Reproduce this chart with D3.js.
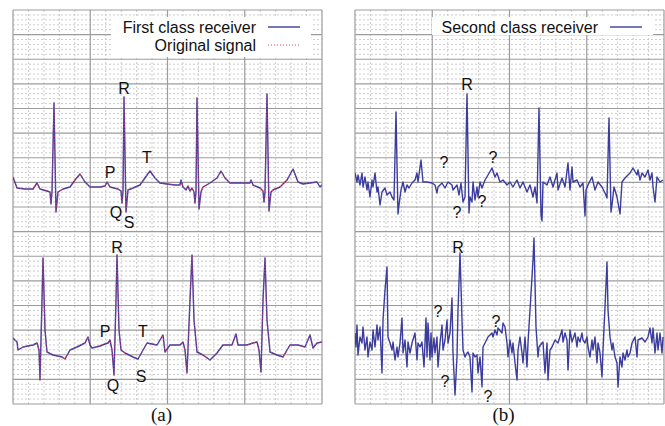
<!DOCTYPE html>
<html>
<head>
<meta charset="utf-8">
<script src="https://cdn.jsdelivr.net/npm/d3@7"></script>
<style>
  html, body { margin: 0; padding: 0; background: #fff; }
  svg { display: block; }
  .label { font-family: "Liberation Sans", Arial, sans-serif; font-size: 16px; fill: #111; }
  .caption { font-family: "Liberation Serif", "Times New Roman", serif; font-size: 19px; fill: #111; }
</style>
</head>
<body>
<svg id="chart" width="665" height="426"></svg>
<script>
// samples are [time (s), amplitude (mV)]

// (a) upper lead, original signal (first class receiver follows it)
const firstTop = [
  [0.00,0.60],[0.04,0.38],[0.12,0.36],[0.20,0.36],[0.24,0.48],[0.27,0.36],[0.34,0.32],[0.37,0.30],
  [0.38,0.06],[0.39,0.30],[0.41,2.08],[0.43,-0.10],[0.45,0.30],[0.50,0.36],[0.57,0.40],[0.62,0.54],
  [0.67,0.66],[0.72,0.50],[0.77,0.40],[0.87,0.40],[0.92,0.42],[0.94,0.50],[0.97,0.40],[1.05,0.36],
  [1.08,0.32],[1.09,0.08],[1.10,0.30],[1.11,2.20],[1.13,-0.10],[1.15,0.34],[1.20,0.38],[1.27,0.44],
  [1.34,0.64],[1.37,0.72],[1.42,0.58],[1.47,0.48],[1.54,0.46],[1.62,0.44],[1.67,0.44],[1.68,0.54],
  [1.70,0.40],[1.73,0.34],[1.75,0.42],[1.77,0.32],[1.79,0.38],[1.81,0.30],[1.82,0.08],[1.83,0.30],
  [1.84,2.18],[1.86,-0.04],[1.88,0.30],[1.90,0.40],[1.97,0.48],[2.04,0.58],[2.08,0.72],[2.12,0.58],
  [2.17,0.48],[2.27,0.48],[2.37,0.48],[2.38,0.54],[2.40,0.44],[2.47,0.38],[2.50,0.32],[2.51,0.10],
  [2.52,0.30],[2.54,2.26],[2.56,-0.08],[2.58,0.30],[2.60,0.34],[2.67,0.40],[2.74,0.54],[2.80,0.76],
  [2.85,0.50],[2.90,0.46],[2.97,0.48],[3.04,0.50],[3.07,0.40],[3.09,0.44]
];

// (a) lower lead
const firstBottom = [
  [0.00,-2.62],[0.04,-2.70],[0.05,-2.86],[0.10,-2.80],[0.15,-2.78],[0.20,-2.76],[0.24,-2.72],[0.26,-2.86],
  [0.27,-3.46],[0.29,-1.86],[0.30,-1.02],[0.32,-2.46],[0.34,-2.90],[0.40,-2.96],[0.49,-3.00],[0.52,-3.04],
  [0.57,-2.86],[0.64,-2.80],[0.72,-2.72],[0.75,-2.60],[0.77,-2.76],[0.79,-2.82],[0.87,-2.78],[0.92,-2.74],
  [0.95,-2.72],[0.97,-2.66],[0.99,-2.86],[1.01,-3.36],[1.03,-1.86],[1.04,-0.96],[1.06,-2.46],[1.08,-2.86],
  [1.12,-2.92],[1.20,-3.00],[1.25,-3.04],[1.29,-2.90],[1.34,-2.72],[1.44,-2.76],[1.50,-2.56],[1.52,-2.90],
  [1.57,-2.76],[1.67,-2.76],[1.70,-2.70],[1.72,-2.86],[1.74,-3.32],[1.77,-1.86],[1.79,-0.96],[1.81,-2.26],
  [1.84,-2.90],[1.90,-2.96],[1.97,-3.06],[2.04,-2.92],[2.10,-2.76],[2.19,-2.76],[2.23,-2.54],[2.25,-2.76],
  [2.34,-2.76],[2.40,-2.72],[2.44,-2.70],[2.46,-2.86],[2.48,-3.30],[2.50,-1.86],[2.52,-1.02],[2.54,-2.26],
  [2.57,-2.90],[2.64,-2.96],[2.70,-3.00],[2.77,-2.76],[2.85,-2.76],[2.92,-2.80],[2.97,-2.56],[3.00,-2.82],
  [3.04,-2.72],[3.09,-2.70]
];

// (b) second class receiver, upper lead
const secondTop = [
  [0.00,0.68],[0.02,0.50],[0.03,0.64],[0.05,0.44],[0.07,0.68],[0.08,0.40],[0.10,0.60],[0.12,0.34],
  [0.13,0.50],[0.15,0.20],[0.17,0.54],[0.18,0.40],[0.20,0.68],[0.22,0.30],[0.23,0.40],[0.25,0.04],
  [0.27,0.30],[0.30,0.38],[0.32,0.24],[0.35,0.30],[0.37,0.20],[0.39,0.14],[0.41,1.90],[0.43,-0.14],
  [0.44,0.04],[0.46,0.34],[0.48,0.50],[0.50,0.30],[0.52,0.44],[0.54,0.38],[0.57,0.48],[0.60,0.54],
  [0.62,0.68],[0.63,0.50],[0.66,0.94],[0.68,0.50],[0.72,0.50],[0.77,0.48],[0.80,0.44],[0.82,0.28],
  [0.83,0.40],[0.87,0.48],[0.90,0.38],[0.93,0.50],[0.97,0.44],[0.98,0.34],[1.02,0.44],[1.04,0.24],
  [1.06,0.48],[1.08,0.10],[1.10,0.20],[1.12,2.26],[1.14,-0.12],[1.15,0.20],[1.17,0.10],[1.18,0.50],
  [1.20,0.14],[1.22,0.40],[1.23,0.20],[1.25,0.50],[1.27,0.38],[1.30,0.54],[1.33,0.64],[1.37,0.78],
  [1.40,0.60],[1.42,0.68],[1.45,0.50],[1.48,0.54],[1.52,0.44],[1.55,0.50],[1.58,0.40],[1.62,0.54],
  [1.65,0.38],[1.68,0.50],[1.72,0.30],[1.75,0.44],[1.78,0.20],[1.80,0.40],[1.82,0.08],[1.84,1.98],
  [1.86,-0.16],[1.87,-0.28],[1.88,0.50],[1.92,0.44],[1.95,0.60],[1.98,0.40],[2.02,0.68],[2.03,0.34],
  [2.07,0.58],[2.10,0.40],[2.13,0.88],[2.15,0.34],[2.17,0.80],[2.18,0.50],[2.22,0.54],[2.25,0.40],
  [2.28,0.48],[2.30,-0.18],[2.31,0.34],[2.33,0.44],[2.37,0.60],[2.40,0.34],[2.43,0.50],[2.47,0.40],
  [2.50,0.28],[2.52,0.18],[2.54,1.78],[2.56,-0.10],[2.57,0.04],[2.59,0.40],[2.62,0.20],[2.65,-0.14],
  [2.67,0.50],[2.70,0.58],[2.75,0.68],[2.78,0.78],[2.82,0.64],[2.83,0.74],[2.85,0.54],[2.87,0.68],
  [2.90,0.60],[2.93,0.74],[2.95,0.54],[2.97,0.68],[2.98,0.40],[3.00,0.10],[3.02,0.60],[3.05,0.50],
  [3.08,0.54]
];

// (b) second class receiver, lower lead
const secondBottom = [
  [0.00,-2.52],[0.01,-2.80],[0.02,-2.36],[0.03,-2.96],[0.05,-2.60],[0.07,-2.72],[0.08,-2.40],[0.10,-2.86],
  [0.12,-2.60],[0.13,-3.00],[0.15,-2.70],[0.17,-2.86],[0.18,-2.46],[0.20,-2.80],[0.22,-2.36],[0.23,-2.66],
  [0.25,-2.40],[0.27,-3.32],[0.28,-2.26],[0.30,-1.66],[0.32,-1.20],[0.33,-2.60],[0.35,-2.72],[0.37,-2.86],
  [0.38,-2.70],[0.40,-3.06],[0.42,-2.80],[0.43,-3.00],[0.45,-2.72],[0.47,-2.22],[0.48,-2.92],[0.50,-2.66],
  [0.52,-3.20],[0.53,-2.70],[0.55,-2.92],[0.57,-2.72],[0.60,-2.52],[0.62,-3.06],[0.63,-2.72],[0.65,-2.80],
  [0.67,-2.70],[0.69,-3.20],[0.71,-2.22],[0.72,-3.00],[0.73,-2.32],[0.75,-3.06],[0.76,-2.52],[0.77,-3.00],
  [0.79,-2.62],[0.80,-2.92],[0.82,-2.60],[0.83,-3.20],[0.85,-2.72],[0.87,-2.36],[0.88,-2.86],[0.90,-2.66],
  [0.92,-2.26],[0.93,-2.72],[0.95,-2.52],[0.97,-1.82],[0.98,-2.92],[1.00,-3.76],[1.02,-3.00],[1.03,-2.06],
  [1.05,-0.92],[1.07,-2.26],[1.08,-2.86],[1.10,-3.00],[1.12,-2.92],[1.13,-2.90],[1.15,-3.00],[1.17,-3.70],
  [1.18,-2.92],[1.20,-3.00],[1.22,-2.96],[1.23,-3.32],[1.25,-3.00],[1.27,-3.60],[1.28,-2.80],[1.30,-2.72],
  [1.33,-2.60],[1.37,-2.52],[1.38,-2.60],[1.40,-2.46],[1.42,-2.56],[1.43,-2.42],[1.47,-2.52],[1.48,-2.32],
  [1.50,-2.40],[1.52,-2.72],[1.53,-3.00],[1.55,-2.66],[1.57,-2.92],[1.58,-2.72],[1.60,-3.12],[1.62,-3.46],
  [1.63,-2.86],[1.65,-2.60],[1.67,-2.92],[1.68,-3.12],[1.70,-2.60],[1.72,-3.20],[1.73,-2.72],[1.75,-2.06],
  [1.77,-1.40],[1.78,-1.06],[1.79,-0.62],[1.81,-2.40],[1.83,-3.00],[1.84,-2.80],[1.87,-2.72],[1.88,-2.70],
  [1.90,-3.32],[1.92,-2.72],[1.93,-3.46],[1.95,-2.86],[1.97,-2.80],[2.00,-2.66],[2.03,-2.72],[2.07,-2.46],
  [2.08,-2.70],[2.10,-2.52],[2.12,-2.66],[2.13,-3.26],[2.15,-2.46],[2.17,-2.70],[2.20,-2.52],[2.22,-2.80],
  [2.23,-2.60],[2.25,-2.70],[2.27,-2.52],[2.28,-2.66],[2.30,-2.72],[2.32,-2.60],[2.33,-2.80],[2.35,-3.00],
  [2.37,-2.66],[2.38,-2.86],[2.40,-2.60],[2.42,-3.12],[2.43,-2.72],[2.45,-2.92],[2.47,-3.40],[2.48,-2.86],
  [2.50,-2.00],[2.52,-1.10],[2.53,-2.06],[2.55,-2.60],[2.57,-2.86],[2.58,-2.72],[2.60,-3.00],[2.62,-3.12],
  [2.63,-3.60],[2.65,-3.00],[2.67,-3.20],[2.68,-2.92],[2.70,-3.06],[2.72,-2.86],[2.73,-3.00],[2.75,-2.92],
  [2.77,-2.72],[2.80,-2.60],[2.82,-3.00],[2.83,-2.66],[2.87,-2.62],[2.90,-2.70],[2.93,-2.60],[2.95,-2.42],
  [2.97,-2.72],[2.98,-2.42],[3.00,-2.92],[3.02,-2.52],[3.03,-2.86],[3.05,-2.52],[3.07,-2.92],[3.08,-2.60]
];

// wave annotations [text, time, amplitude]
const notesA = [
  ['R',1.11,2.26],['P',0.97,0.58],['T',1.34,0.88],['Q',1.03,-0.22],['S',1.16,-0.42],
  ['R',1.04,-0.92],['P',0.92,-2.60],['T',1.30,-2.60],['Q',1.00,-3.68],['S',1.28,-3.50]
];
const notesB = [
  ['R',1.12,2.34],['?',0.89,0.78],['?',1.38,0.88],['?',1.27,0.00],['?',1.02,-0.22],
  ['R',1.03,-0.92],['?',0.83,-2.20],['?',1.41,-2.40],['?',0.90,-3.60],['?',1.33,-3.90]
];

const legendA = ['First class receiver', 'Original signal'];
const legendB = ['Second class receiver'];
const captions = ['(a)', '(b)'];

const BLUE = '#3c3c9e';
const RED = '#d4406e';

const svg = d3.select('#chart');
const padTop = 10, panelH = 394, panelW = 309;
const panels = [
  { left: 13, caption: captions[0], notes: notesA, legend: legendA, boxW: 200, boxH: 40,
    traces: [
      { data: firstTop, color: BLUE }, { data: firstBottom, color: BLUE },
      { data: firstTop, color: RED, dash: '1,2' }, { data: firstBottom, color: RED, dash: '1,2' }
    ] },
  { left: 355, caption: captions[1], notes: notesB, legend: legendB, boxW: 221, boxH: 18,
    traces: [ { data: secondTop, color: BLUE }, { data: secondBottom, color: BLUE } ] }
];

panels.forEach((p, pi) => {
  const x = d3.scaleLinear().domain([0, 3.09]).range([p.left, p.left + panelW]);
  const y = d3.scaleLinear().domain([-3.94, 3.94]).range([padTop + panelH, padTop]);
  const g = svg.append('g');

  // ECG paper: dotted minor grid, solid major grid
  const minorX = d3.range(1, 20).filter(i => i % 5).map(i => p.left + i * panelW / 20);
  const minorY = d3.range(1, 80).filter(i => i % 5).map(i => padTop + i * panelH / 80);
  g.selectAll('.mx').data(minorX).join('line')
    .attr('x1', d => d).attr('x2', d => d).attr('y1', padTop).attr('y2', padTop + panelH)
    .attr('stroke', '#cccccc').attr('stroke-dasharray', '2,2');
  g.selectAll('.my').data(minorY).join('line')
    .attr('x1', p.left).attr('x2', p.left + panelW).attr('y1', d => d).attr('y2', d => d)
    .attr('stroke', '#cccccc').attr('stroke-dasharray', '2,2');

  const majorX = d3.range(0, 5).map(i => p.left + i * panelW / 4);
  const majorY = d3.range(0, 17).map(i => padTop + i * panelH / 16);
  g.selectAll('.Mx').data(majorX).join('line')
    .attr('x1', d => d).attr('x2', d => d).attr('y1', padTop).attr('y2', padTop + panelH)
    .attr('stroke', '#9c9c9c').attr('stroke-width', 1.2);
  g.selectAll('.My').data(majorY).join('line')
    .attr('x1', p.left).attr('x2', p.left + panelW).attr('y1', d => d).attr('y2', d => d)
    .attr('stroke', '#9c9c9c').attr('stroke-width', 1.2);

  // traces
  const clipId = 'clip' + pi;
  svg.append('clipPath').attr('id', clipId).append('rect')
    .attr('x', p.left).attr('y', padTop).attr('width', panelW).attr('height', panelH);
  const line = d3.line().x(d => x(d[0])).y(d => y(d[1]));
  g.append('g').attr('clip-path', `url(#${clipId})`)
    .selectAll('path').data(p.traces).join('path')
    .attr('d', d => line(d.data))
    .attr('fill', 'none')
    .attr('stroke', d => d.color)
    .attr('stroke-width', d => d.dash ? 1.1 : 1.4)
    .attr('stroke-dasharray', d => d.dash || null)
    .attr('stroke-linejoin', 'round');

  // legend
  const boxRight = p.left + panelW - 11;
  g.append('rect')
    .attr('x', boxRight - p.boxW).attr('y', 17)
    .attr('width', p.boxW).attr('height', p.boxH).attr('fill', '#fff');
  p.legend.forEach((name, i) => {
    const ly = 27 + i * 18;
    const tr = p.traces.find(t => (i === 0 ? !t.dash : t.dash));
    g.append('text').attr('class', 'label')
      .attr('x', boxRight - 55).attr('y', ly + 6)
      .attr('text-anchor', 'end').text(name);
    g.append('line')
      .attr('x1', boxRight - 43).attr('x2', boxRight - 11)
      .attr('y1', ly).attr('y2', ly)
      .attr('stroke', tr.color).attr('stroke-width', tr.dash ? 1.1 : 1.4)
      .attr('stroke-dasharray', tr.dash || null);
  });

  // wave labels
  g.selectAll('.note').data(p.notes).join('text')
    .attr('class', 'label')
    .attr('text-anchor', 'middle')
    .attr('x', d => x(d[1])).attr('y', d => y(d[2]))
    .text(d => d[0]);

  svg.append('text').attr('class', 'caption')
    .attr('x', p.left + panelW / 2 - 6).attr('y', 421)
    .attr('text-anchor', 'middle').text(p.caption);
});
</script>
</body>
</html>
